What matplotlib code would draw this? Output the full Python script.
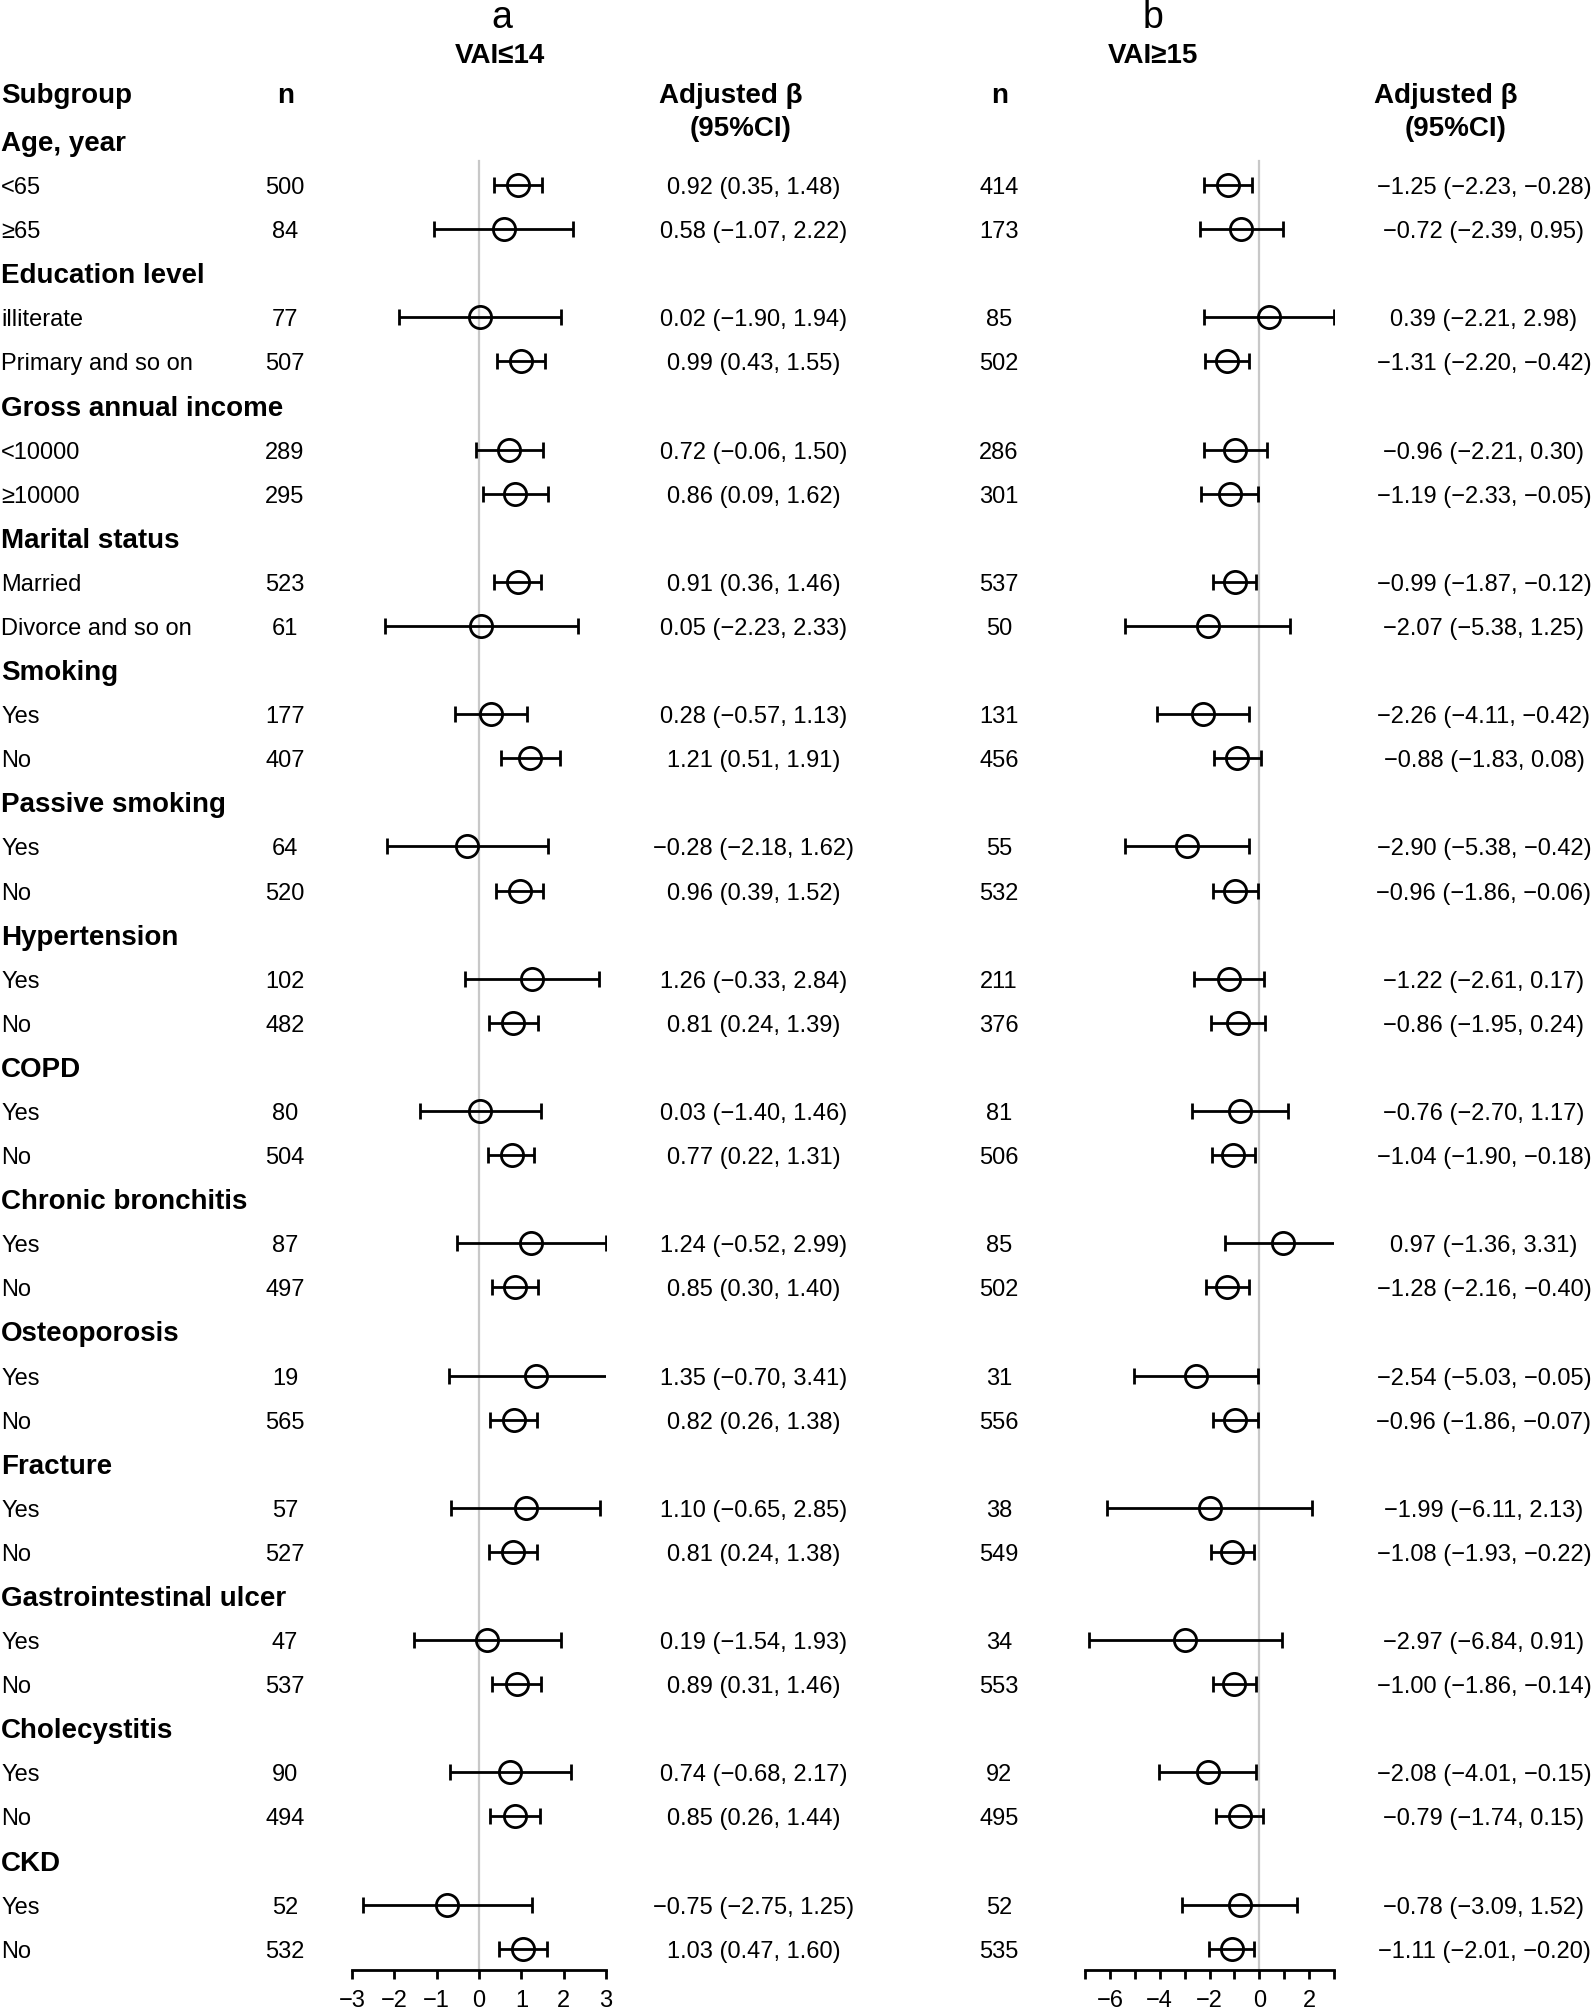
import matplotlib
matplotlib.use('Agg')
import matplotlib.pyplot as plt
import numpy as np

plt.rcParams['font.family'] = ['Liberation Sans', 'DejaVu Sans']

# ---- data ----
groups = ['Age, year', 'Education level', 'Gross annual income', 'Marital status',
          'Smoking', 'Passive smoking', 'Hypertension', 'COPD', 'Chronic bronchitis',
          'Osteoporosis', 'Fracture', 'Gastrointestinal ulcer', 'Cholecystitis', 'CKD']
sub_labels = [['<65', '≥65'], ['illiterate', 'Primary and so on'], ['<10000', '≥10000'],
              ['Married', 'Divorce and so on'], ['Yes', 'No'], ['Yes', 'No'], ['Yes', 'No'],
              ['Yes', 'No'], ['Yes', 'No'], ['Yes', 'No'], ['Yes', 'No'], ['Yes', 'No'],
              ['Yes', 'No'], ['Yes', 'No']]

# panel a: VAI<=14
n_a = [500, 84, 77, 507, 289, 295, 523, 61, 177, 407, 64, 520, 102, 482,
       80, 504, 87, 497, 19, 565, 57, 527, 47, 537, 90, 494, 52, 532]
beta_a = [0.92, 0.58, 0.02, 0.99, 0.72, 0.86, 0.91, 0.05, 0.28, 1.21, -0.28, 0.96, 1.26, 0.81,
          0.03, 0.77, 1.24, 0.85, 1.35, 0.82, 1.10, 0.81, 0.19, 0.89, 0.74, 0.85, -0.75, 1.03]
lo_a = [0.35, -1.07, -1.90, 0.43, -0.06, 0.09, 0.36, -2.23, -0.57, 0.51, -2.18, 0.39, -0.33, 0.24,
        -1.40, 0.22, -0.52, 0.30, -0.70, 0.26, -0.65, 0.24, -1.54, 0.31, -0.68, 0.26, -2.75, 0.47]
hi_a = [1.48, 2.22, 1.94, 1.55, 1.50, 1.62, 1.46, 2.33, 1.13, 1.91, 1.62, 1.52, 2.84, 1.39,
        1.46, 1.31, 2.99, 1.40, 3.41, 1.38, 2.85, 1.38, 1.93, 1.46, 2.17, 1.44, 1.25, 1.60]

# panel b: VAI>=15
n_b = [414, 173, 85, 502, 286, 301, 537, 50, 131, 456, 55, 532, 211, 376,
       81, 506, 85, 502, 31, 556, 38, 549, 34, 553, 92, 495, 52, 535]
beta_b = [-1.25, -0.72, 0.39, -1.31, -0.96, -1.19, -0.99, -2.07, -2.26, -0.88, -2.90, -0.96, -1.22, -0.86,
          -0.76, -1.04, 0.97, -1.28, -2.54, -0.96, -1.99, -1.08, -2.97, -1.00, -2.08, -0.79, -0.78, -1.11]
lo_b = [-2.23, -2.39, -2.21, -2.20, -2.21, -2.33, -1.87, -5.38, -4.11, -1.83, -5.38, -1.86, -2.61, -1.95,
        -2.70, -1.90, -1.36, -2.16, -5.03, -1.86, -6.11, -1.93, -6.84, -1.86, -4.01, -1.74, -3.09, -2.01]
hi_b = [-0.28, 0.95, 2.98, -0.42, 0.30, -0.05, -0.12, 1.25, -0.42, 0.08, -0.42, -0.06, 0.17, 0.24,
        1.17, -0.18, 3.31, -0.40, -0.05, -0.07, 2.13, -0.22, 0.91, -0.14, -0.15, 0.15, 1.52, -0.20]

W, H = 1594, 2014
Y0, DY = 141, 44.09          # pixel y of first row and row spacing
AX_BOTTOM = 1970             # pixel y of the x-axis line
r_bottom = (AX_BOTTOM - Y0) / DY
TXT_DY = 3                   # va='center' sits a bit high, push text down

BODY = 17
BOLD = 20


def mfmt(v):
    return f'{v:.2f}'.replace('-', '\u2212')


def row_y(r):
    return Y0 + DY * r + TXT_DY


fig = plt.figure(figsize=(W / 100, H / 100), dpi=100)

# background axes in pixel coordinates for all text
bg = fig.add_axes([0, 0, 1, 1])
bg.set_xlim(0, W)
bg.set_ylim(H, 0)
bg.axis('off')

# rows: group header at 3g, sub rows at 3g+1, 3g+2
sub_rows = []
for g, name in enumerate(groups):
    bg.text(1, row_y(3 * g), name, fontsize=BOLD, fontweight='bold', va='center', ha='left')
    for k, lab in enumerate(sub_labels[g]):
        r = 3 * g + 1 + k
        sub_rows.append(r)
        bg.text(1, row_y(r), lab, fontsize=BODY, va='center', ha='left')
sub_rows = np.array(sub_rows)

# headers
bg.text(502, 18, 'a', fontsize=27, ha='center', va='center')
bg.text(1153, 18, 'b', fontsize=27, ha='center', va='center')
bg.text(500, 56, 'VAI≤14', fontsize=BOLD, fontweight='bold', ha='center', va='center')
bg.text(1153, 56, 'VAI≥15', fontsize=BOLD, fontweight='bold', ha='center', va='center')
bg.text(1, 96, 'Subgroup', fontsize=BOLD, fontweight='bold', ha='left', va='center')
for nx, bx in [(286, 731), (1000, 1446)]:
    bg.text(nx, 96, 'n', fontsize=BOLD, fontweight='bold', ha='center', va='center')
    bg.text(bx, 96, 'Adjusted β', fontsize=BOLD, fontweight='bold', ha='center', va='center')
    bg.text(bx + 10, 129, '(95%CI)', fontsize=BOLD, fontweight='bold', ha='center', va='center')

# n and estimate columns
for i, r in enumerate(sub_rows):
    y = row_y(r)
    bg.text(285, y, str(n_a[i]), fontsize=BODY, ha='center', va='center')
    bg.text(754, y, f'{mfmt(beta_a[i])} ({mfmt(lo_a[i])}, {mfmt(hi_a[i])})',
            fontsize=BODY, ha='center', va='center')
    bg.text(999, y, str(n_b[i]), fontsize=BODY, ha='center', va='center')
    bg.text(1484, y, f'{mfmt(beta_b[i])} ({mfmt(lo_b[i])}, {mfmt(hi_b[i])})',
            fontsize=BODY, ha='center', va='center')


def forest(x0, x1, xmin, xmax, beta, lo, hi, ticks, labels):
    top = 119
    ax = fig.add_axes([x0 / W, 1 - AX_BOTTOM / H, (x1 - x0) / W, (AX_BOTTOM - top) / H])
    ax.set_xlim(xmin, xmax)
    ax.set_ylim(r_bottom, (top - Y0) / DY)
    ax.patch.set_alpha(0)
    for s in ['top', 'left', 'right']:
        ax.spines[s].set_visible(False)
    ax.spines['bottom'].set_linewidth(2)
    ax.spines['bottom'].set_bounds(xmin, xmax)
    ax.set_yticks([])
    ax.set_xticks(ticks)
    ax.set_xticklabels(labels, fontsize=BODY)
    ax.tick_params(axis='x', direction='out', length=6.5, width=2, pad=8)

    ax.plot([0, 0], [0.45, r_bottom], color='#c8c8c8', lw=1.6, zorder=0)

    beta = np.array(beta)
    err = [beta - np.array(lo), np.array(hi) - beta]
    ax.errorbar(beta, sub_rows, xerr=err, fmt='o', mfc='none', mec='black', ms=16, mew=2,
                ecolor='black', elinewidth=2, capsize=6, capthick=2)
    return ax


def tl(t):
    return str(t).replace('-', '\u2212')


forest(352, 606, -3, 3, beta_a, lo_a, hi_a, list(range(-3, 4)), [tl(t) for t in range(-3, 4)])
forest(1085, 1334, -7, 3, beta_b, lo_b, hi_b, list(range(-7, 4)),
       [tl(t) if t % 2 == 0 else '' for t in range(-7, 4)])

fig.savefig('out.png', dpi=100)
